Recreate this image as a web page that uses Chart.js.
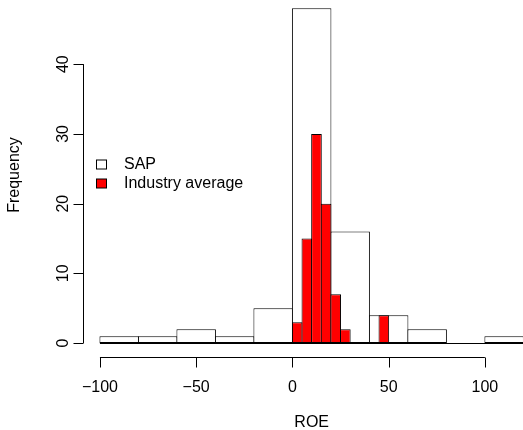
<!DOCTYPE html>
<html lang="en">
<head>
  <meta charset="UTF-8" />
  <title>ROE histogram</title>
  <script src="https://cdn.jsdelivr.net/npm/chart.js"></script>
  <style>
    html, body { margin: 0; padding: 0; background: #fff; }
    canvas { display: block; }
  </style>
</head>
<body>
  <canvas id="roeChart" width="523" height="430"></canvas>

  <script>
    // SAP: 20-wide bins
    const sapBreaks = [-100, -80, -60, -40, -20, 0, 20, 40, 60, 80, 100, 120];
    const sapCounts = [1, 1, 2, 1, 5, 48, 16, 4, 2, 0, 1];
    // industry average: 5-wide bins
    const indBreaks = [0, 5, 10, 15, 20, 25, 30, 35, 40, 45, 50];
    const indCounts = [3, 15, 30, 20, 7, 2, 0, 0, 0, 4];

    const xTicks = [-100, -50, 0, 50, 100];
    const yTicks = [0, 10, 20, 30, 40];
    const seriesNames = ['SAP', 'Industry average'];

    const FONT = '16px "Liberation Sans", Arial, Helvetica, sans-serif';

    // bins -> {x: midpoint, y: count}
    const toBars = (breaks, counts) =>
      counts.map((c, i) => ({ x: (breaks[i] + breaks[i + 1]) / 2, y: c }));

    // base-graphics style axes, titles and legend
    const rAxes = {
      id: 'rAxes',
      afterDraw(chart) {
        const ctx = chart.ctx;
        const xs = chart.scales.x;
        const ys = chart.scales.y;
        const area = chart.chartArea;
        const tick = 10;

        ctx.save();
        ctx.strokeStyle = '#000';
        ctx.fillStyle = '#000';
        ctx.lineWidth = 1;
        ctx.font = FONT;

        // baseline under all bins
        const y0 = Math.round(ys.getPixelForValue(0)) + 0.5;
        ctx.beginPath();
        ctx.moveTo(xs.getPixelForValue(sapBreaks[0]), y0);
        ctx.lineTo(xs.getPixelForValue(sapBreaks[sapBreaks.length - 1]), y0);
        ctx.stroke();

        // x axis
        const ax = Math.round(area.bottom) + 0.5;
        ctx.beginPath();
        ctx.moveTo(xs.getPixelForValue(xTicks[0]), ax);
        ctx.lineTo(xs.getPixelForValue(xTicks[xTicks.length - 1]), ax);
        xTicks.forEach(v => {
          const px = Math.round(xs.getPixelForValue(v)) + 0.5;
          ctx.moveTo(px, ax);
          ctx.lineTo(px, ax + tick);
        });
        ctx.stroke();
        ctx.textAlign = 'center';
        ctx.textBaseline = 'middle';
        xTicks.forEach(v => {
          const s = v < 0 ? '\u2212' + Math.abs(v) : String(v);
          ctx.fillText(s, xs.getPixelForValue(v), ax + 30);
        });
        const xMid = (sapBreaks[0] + sapBreaks[sapBreaks.length - 1]) / 2;
        ctx.fillText('ROE', xs.getPixelForValue(xMid), ax + 65);

        // y axis
        const ay = Math.round(area.left) + 0.5;
        ctx.beginPath();
        ctx.moveTo(ay, ys.getPixelForValue(yTicks[0]));
        ctx.lineTo(ay, ys.getPixelForValue(yTicks[yTicks.length - 1]));
        yTicks.forEach(v => {
          const py = Math.round(ys.getPixelForValue(v)) + 0.5;
          ctx.moveTo(ay, py);
          ctx.lineTo(ay - tick, py);
        });
        ctx.stroke();
        yTicks.forEach(v => {
          ctx.save();
          ctx.translate(ay - 20, ys.getPixelForValue(v));
          ctx.rotate(-Math.PI / 2);
          ctx.fillText(String(v), 0, 0);
          ctx.restore();
        });
        ctx.save();
        ctx.translate(15, 175);
        ctx.rotate(-Math.PI / 2);
        ctx.fillText('Frequency', 0, 0);
        ctx.restore();

        // legend (no frame)
        ctx.textAlign = 'left';
        const ds = chart.data.datasets;
        const rows = [ds.find(d => d.label === seriesNames[0]), ds.find(d => d.label === seriesNames[1])];
        rows.forEach((d, i) => {
          const cy = 164.5 + i * 19;
          ctx.fillStyle = d.backgroundColor;
          ctx.fillRect(96.5, cy - 4.5, 10, 9);
          ctx.strokeRect(96.5, cy - 4.5, 10, 9);
          ctx.fillStyle = '#000';
          ctx.fillText(d.label, 124, cy);
        });
        ctx.restore();
      }
    };

    new Chart(document.getElementById('roeChart'), {
      type: 'bar',
      data: {
        datasets: [
          {
            label: seriesNames[0],
            data: toBars(sapBreaks, sapCounts),
            xAxisID: 'x',
            backgroundColor: '#ffffff',
            borderColor: '#000000',
            borderWidth: 1,
            borderSkipped: false,
            // one extra pixel so neighbouring borders overlap
            barPercentage: 1.026,
            order: 2
          },
          {
            label: seriesNames[1],
            data: toBars(indBreaks, indCounts),
            xAxisID: 'x2',
            backgroundColor: '#ff0000',
            borderColor: '#000000',
            borderWidth: 1,
            borderSkipped: false,
            barPercentage: 1.104,
            order: 1
          }
        ]
      },
      options: {
        responsive: false,
        animation: false,
        devicePixelRatio: 1,
        layout: { padding: { left: 83, right: 0, top: 0, bottom: 73.5 } },
        datasets: {
          bar: { categoryPercentage: 1, grouped: false, inflateAmount: 0 }
        },
        scales: {
          x: {
            type: 'linear', display: false, offset: false, min: -108.8, max: 119.8,
            afterBuildTicks: s => { s.ticks = xTicks.map(v => ({ value: v })); }
          },
          x2: {
            type: 'linear', display: false, offset: false, min: -108.8, max: 119.8,
            afterBuildTicks: s => { s.ticks = xTicks.map(v => ({ value: v })); }
          },
          y: { type: 'linear', display: false, min: -1.92, max: 49.2 }
        },
        plugins: {
          legend: { display: false },
          tooltip: { enabled: false }
        }
      },
      plugins: [rAxes]
    });
  </script>
</body>
</html>
